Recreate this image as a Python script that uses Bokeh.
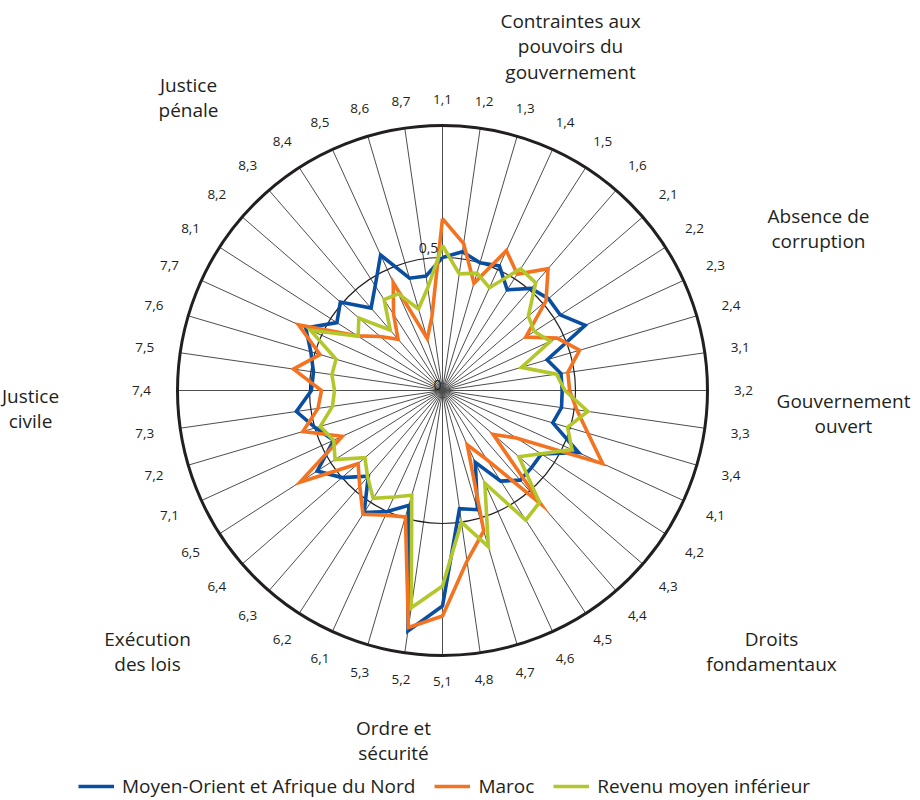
import math
from bokeh.plotting import figure
from bokeh.models import Legend, LegendItem
from bokeh.core.properties import value
from bokeh.embed import file_html
from bokeh.resources import INLINE

subfactors = ["1,1", "1,2", "1,3", "1,4", "1,5", "1,6",
              "2,1", "2,2", "2,3", "2,4",
              "3,1", "3,2", "3,3", "3,4",
              "4,1", "4,2", "4,3", "4,4", "4,5", "4,6", "4,7", "4,8",
              "5,1", "5,2", "5,3",
              "6,1", "6,2", "6,3", "6,4", "6,5",
              "7,1", "7,2", "7,3", "7,4", "7,5", "7,6", "7,7",
              "8,1", "8,2", "8,3", "8,4", "8,5", "8,6", "8,7"]

mena = [0.50, 0.527, 0.50, 0.515, 0.45, 0.508,
        0.527, 0.526, 0.59, 0.41,
        0.45, 0.45, 0.452, 0.432,
        0.563, 0.442, 0.443, 0.446, 0.405, 0.297, 0.467, 0.449,
        0.81, 0.913, 0.45,
        0.50, 0.545, 0.426, 0.50, 0.56,
        0.45, 0.498, 0.555, 0.493, 0.49, 0.516, 0.565,
        0.472, 0.508, 0.41, 0.468, 0.56, 0.44, 0.435]

maroc = [0.646, 0.558, 0.42, 0.578, 0.52, 0.606,
         0.515, 0.372, 0.474, 0.537,
         0.476, 0.478, 0.51, 0.57,
         0.662, 0.33, 0.252, 0.565, 0.31, 0.224, 0.55, 0.648,
         0.848, 0.90, 0.495,
         0.515, 0.553, 0.475, 0.42, 0.637,
         0.414, 0.547, 0.473, 0.455, 0.566, 0.48, 0.595,
         0.38, 0.31, 0.255, 0.34, 0.446, 0.203, 0.28]

lmi = [0.545, 0.443, 0.46, 0.425, 0.544, 0.535,
       0.427, 0.41, 0.446, 0.309,
       0.433, 0.46, 0.552, 0.49,
       0.535, 0.44, 0.38, 0.557, 0.579, 0.383, 0.612, 0.50,
       0.735, 0.825, 0.41,
       0.44, 0.482, 0.43, 0.386, 0.48,
       0.45, 0.479, 0.418, 0.406, 0.42, 0.417, 0.546,
       0.377, 0.416, 0.30, 0.406, 0.40, 0.32, 0.39]

series_names = ["Moyen-Orient et Afrique du Nord", "Maroc", "Revenu moyen inférieur"]
series_colors = ["#0a4ea1", "#f47320", "#b3c72d"]

categories = [["Contraintes aux", "pouvoirs du", "gouvernement"],
              ["Absence de", "corruption"],
              ["Gouvernement", "ouvert"],
              ["Droits", "fondamentaux"],
              ["Ordre et", "sécurité"],
              ["Exécution", "des lois"],
              ["Justice", "civile"],
              ["Justice", "pénale"]]
# label centre (page pixels) of the first line of each category
cat_pos = [(570, 20), (818, 215), (843, 400), (771, 638),
           (393, 727), (147, 638), (30, 395), (188, 84)]

W, H = 920, 800
CX, CY = 442, 390          # page pixel of radar centre
R = 266                    # pixels for value 1.0
R_OUT = 265

def py(page_y):
    return CY - page_y

def px(page_x):
    return page_x - CX

p = figure(width=W, height=H, output_backend="svg", toolbar_location=None,
           x_range=(-CX, W - CX), y_range=(-(H - CY), CY),
           x_axis_location=None, y_axis_location=None, min_border=0,
           outline_line_color=None, background_fill_color="white",
           border_fill_color="white")
p.grid.visible = False

n = len(subfactors)
theta = [2 * math.pi * i / n for i in range(n)]

# spokes
p.segment(x0=[0] * n, y0=[0] * n,
          x1=[R_OUT * math.sin(t) for t in theta],
          y1=[R_OUT * math.cos(t) for t in theta],
          line_color="#4d4d4d", line_width=1)

# circles
p.circle(x=[0], y=[0], radius=0.5 * R, fill_color=None, line_color="#231f20", line_width=1.2)
p.circle(x=[0], y=[0], radius=R_OUT, fill_color=None, line_color="#231f20", line_width=3)

font = value("Open Sans")

# series
renderers = []
for vals, col in zip([mena, maroc, lmi], series_colors):
    xs = [v * R * math.sin(t) for v, t in zip(vals, theta)]
    ys = [v * R * math.cos(t) for v, t in zip(vals, theta)]
    xs.append(xs[0]); ys.append(ys[0])
    r = p.line(xs, ys, line_color=col, line_width=3.6, line_join="miter")
    renderers.append(r)

# spoke labels
lx, ly = [], []
for t in theta:
    rl = 291 + 10 * abs(math.sin(t))
    lx.append(rl * math.sin(t))
    ly.append(rl * math.cos(t))
p.text(x=lx, y=ly, text=subfactors, text_align="center", text_baseline="middle",
       text_font=font, text_font_size="13.5px", text_color="#231f20")

# scale labels
p.text(x=[px(428), px(437)], y=[py(247), py(384)], text=["0,5", "0"],
       text_align="center", text_baseline="middle", text_font=font,
       text_font_size="14px", text_color="#231f20")

# category labels
cx, cy, ct = [], [], []
for lines, (x0, y0) in zip(categories, cat_pos):
    for k, line in enumerate(lines):
        cx.append(px(x0)); cy.append(py(y0 + 25.5 * k)); ct.append(line)
p.text(x=cx, y=cy, text=ct, text_align="center", text_baseline="middle",
       text_font=font, text_font_size="19px", text_color="#231f20")

legend = Legend(items=[LegendItem(label=nm, renderers=[rr]) for nm, rr in zip(series_names, renderers)],
                orientation="horizontal", location=(78, 1),
                label_text_font="Open Sans", label_text_font_size="19px",
                label_text_color="#231f20", glyph_width=36, label_standoff=8,
                spacing=19, padding=0, margin=0, border_line_color=None,
                background_fill_alpha=0)
p.add_layout(legend, "center")

open("out.html", "w").write(file_html(p, INLINE))
